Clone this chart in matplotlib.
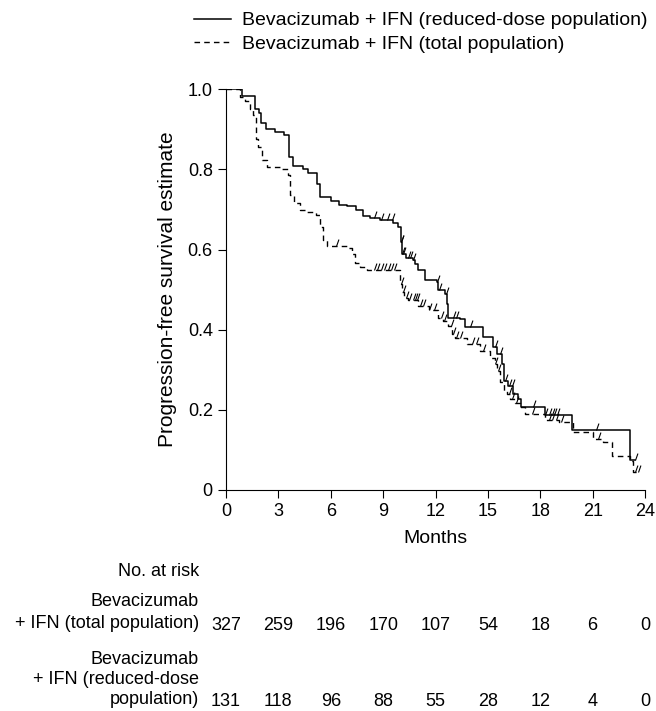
import numpy as np
import matplotlib
matplotlib.use("Agg")
import matplotlib.pyplot as plt
from matplotlib.path import Path

plt.rcParams['font.family'] = ['Liberation Sans', 'DejaVu Sans']
plt.rcParams['font.size'] = 13

# reduced-dose population (solid)
red_t = [0, 0.9, 1.66, 1.9, 1.99, 2.3, 2.8, 3.33, 3.6, 3.82, 4.43, 4.71, 5.19, 5.38,
         5.99, 6.49, 6.91, 7.43, 7.82, 8.25, 8.82, 9.58, 9.86, 10.0, 10.1, 10.3, 10.7,
         10.8, 11.0, 11.4, 12.07, 12.15, 12.54, 12.64, 12.7, 13.4, 13.7, 14.7, 15.3,
         15.5, 15.8, 15.9, 16.17, 16.44, 16.7, 16.88, 18.27, 19.8, 23.14, 23.4]
red_s = [1.0, 0.984, 0.95, 0.94, 0.915, 0.90, 0.894, 0.886, 0.83, 0.808, 0.80, 0.79,
         0.763, 0.73, 0.72, 0.711, 0.708, 0.70, 0.683, 0.678, 0.673, 0.667, 0.656, 0.62,
         0.59, 0.58, 0.573, 0.565, 0.55, 0.523, 0.52, 0.498, 0.49, 0.465, 0.43, 0.428,
         0.406, 0.383, 0.356, 0.34, 0.315, 0.273, 0.26, 0.24, 0.228, 0.208, 0.1875, 0.15,
         0.076, 0.076]
red_cens = [0.05, 8.5, 8.9, 9.2, 9.5, 10.0, 10.05, 10.1, 10.15, 10.4, 10.55, 10.7, 12.1,
            12.2, 12.6, 13.0, 13.2, 14.0, 15.4, 15.7, 16.0, 16.2, 16.4, 17.6, 18.3,
            18.5, 18.65, 18.8, 18.95, 21.2, 23.4]

# total population (dashed)
tot_t = [0, 0.8, 1.09, 1.37, 1.56, 1.72, 1.85, 2.04, 2.33, 3.19, 3.57, 3.66, 3.9, 4.24,
         4.62, 5.15, 5.38, 5.53, 5.76, 6.05, 6.91, 7.2, 7.39, 7.67, 8.06, 9.97, 10.1,
         10.2, 10.44, 11.0, 11.6, 12.15, 12.45, 12.7, 12.93, 13.1, 13.8, 14.55, 15.1,
         15.4, 15.5, 15.7, 15.9, 16.07, 16.25, 16.55, 16.84, 17.1, 18.3, 19.1, 19.9,
         21.0, 21.6, 22.1, 23.14, 23.3, 23.6]
tot_s = [1.0, 0.98, 0.97, 0.95, 0.936, 0.877, 0.857, 0.823, 0.807, 0.80, 0.786, 0.736,
         0.716, 0.698, 0.693, 0.686, 0.656, 0.623, 0.61, 0.608, 0.603, 0.59, 0.567, 0.556,
         0.548, 0.515, 0.494, 0.48, 0.473, 0.46, 0.45, 0.43, 0.423, 0.41, 0.39, 0.38,
         0.365, 0.348, 0.33, 0.315, 0.298, 0.27, 0.248, 0.24, 0.228, 0.216, 0.206, 0.19,
         0.175, 0.169, 0.144, 0.127, 0.119, 0.086, 0.073, 0.044, 0.044]
tot_cens = [6.3, 8.5, 8.65, 8.9, 9.05, 9.3, 9.45, 9.6, 10.05, 10.15, 10.3, 10.5, 10.7,
            10.8, 10.95, 11.1, 11.3, 11.6, 11.9, 12.3, 12.5, 12.9, 13.0, 13.2, 13.4,
            14.1, 14.3, 14.7, 15.4, 15.6, 16.2, 16.4, 16.6, 17.5, 18.5, 18.7, 18.9,
            19.2, 21.3, 23.4, 23.6]

months = [0, 3, 6, 9, 12, 15, 18, 21, 24]
risk_tot = [327, 259, 196, 170, 107, 54, 18, 6, 0]
risk_red = [131, 118, 96, 88, 55, 28, 12, 4, 0]

tick = Path([(0, 0), (0.35, 1)])


def surv_at(times, surv, c):
    idx = np.searchsorted(times, c, side='right') - 1
    return np.array(surv)[idx]


fig = plt.figure(figsize=(6.56, 7.11), dpi=100)
ax = fig.add_axes([226 / 656, 1 - 490 / 711, 419 / 656, 400.7 / 711])

l1, = ax.step(red_t, red_s, where='post', color='black', lw=1.1)
ax.plot(red_cens, surv_at(red_t, red_s, red_cens), ls='none', marker=tick,
        ms=10, mew=0.8, color='black')
l2, = ax.step(tot_t, tot_s, where='post', color='black', lw=1.0, ls=(0, (4, 3)))
ax.plot(tot_cens, surv_at(tot_t, tot_s, tot_cens), ls='none', marker=tick,
        ms=10, mew=0.8, color='black')

ax.set_xlim(0, 24)
ax.set_ylim(0, 1.0)
ax.set_xticks(months)
ax.set_yticks([0, 0.2, 0.4, 0.6, 0.8, 1.0])
ax.set_yticklabels(['0', '0.2', '0.4', '0.6', '0.8', '1.0'])
ax.spines['top'].set_visible(False)
ax.spines['right'].set_visible(False)
ax.tick_params(direction='out', length=6, labelsize=13)
ax.set_xlabel('Months', fontsize=14, labelpad=7)
ax.set_ylabel('Progression-free survival estimate', fontsize=15, labelpad=8)

fig.legend([l1, l2], ['Bevacizumab + IFN (reduced-dose population)',
                      'Bevacizumab + IFN (total population)'],
           loc='upper left', bbox_to_anchor=(186 / 656, 1 - 4 / 711), frameon=False,
           fontsize=14, handlelength=1.9, handletextpad=0.6, labelspacing=0.3,
           borderaxespad=0)

# number at risk table
tr = ax.get_xaxis_transform()
for m, n in zip(months, risk_tot):
    ax.text(m, -(625 - 490) / 400.7, str(n), transform=tr, ha='center', va='center')
for m, n in zip(months, risk_red):
    ax.text(m, -(702 - 490) / 400.7, str(n), transform=tr, ha='center', va='center')

lx = 199 / 656
row_lines = [('No. at risk', 572), ('Bevacizumab', 602),
             ('+ IFN (total population)', 623), ('Bevacizumab', 660),
             ('+ IFN (reduced-dose', 680), ('population)', 699)]
for txt, py in row_lines:
    fig.text(lx, 1 - py / 711, txt, ha='right', va='center')

fig.savefig('out.png', dpi=100)
